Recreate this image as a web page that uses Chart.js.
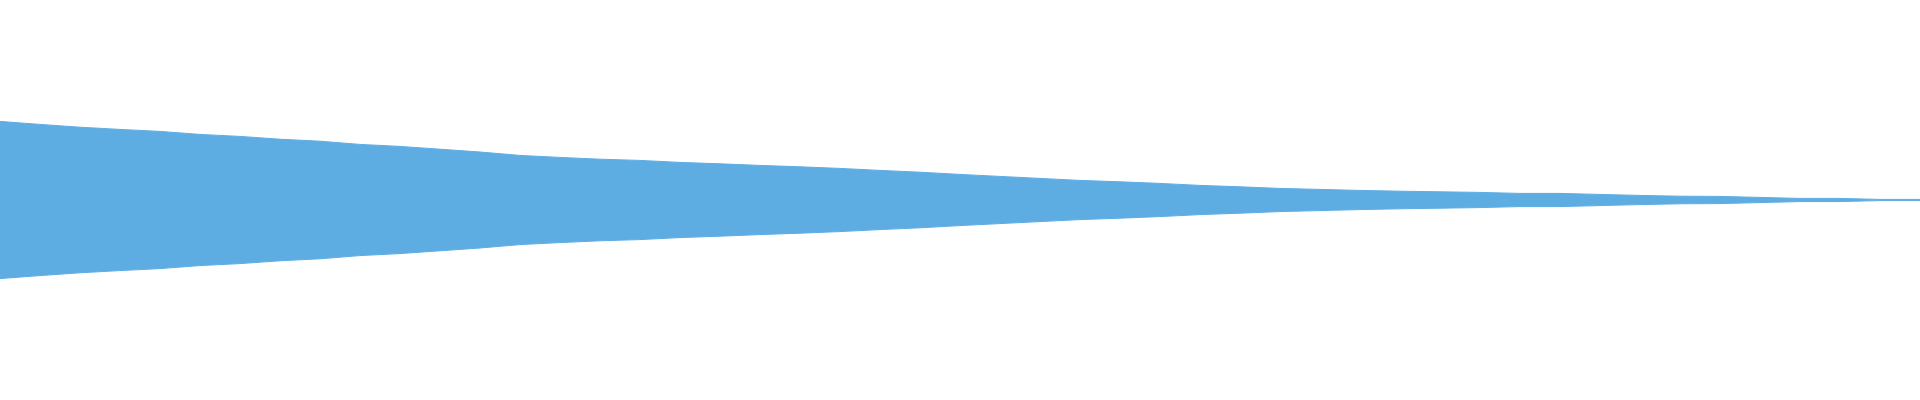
<!DOCTYPE html>
<html>
<head>
<meta charset="utf-8">
<title>Waveform</title>
<script src="https://cdn.jsdelivr.net/npm/chart.js@4.4.1/dist/chart.umd.min.js"></script>
<style>
    html, body { margin: 0; padding: 0; background: #ffffff; }
    #wrap { width: 1920px; height: 400px; }
</style>
</head>
<body>
<div id="wrap"><canvas id="waveChart"></canvas></div>
<script>
// Sample positions (one every 40 samples) and the peak amplitude read at each
const samplePositions = [
    0, 40, 80, 120, 160, 200, 240, 280, 320, 360,
    400, 440, 480, 520, 560, 600, 640, 680, 720, 760,
    800, 840, 880, 920, 960, 1000, 1040, 1080, 1120, 1160,
    1200, 1240, 1280, 1320, 1360, 1400, 1440, 1480, 1520, 1560,
    1600, 1640, 1680, 1720, 1760, 1800, 1840, 1880, 1920
];
const peakAmplitude = [
    0.393, 0.378, 0.364, 0.353, 0.343, 0.328, 0.318, 0.304, 0.294, 0.278,
    0.268, 0.254, 0.240, 0.223, 0.213, 0.204, 0.198, 0.188, 0.181, 0.173,
    0.166, 0.158, 0.148, 0.139, 0.128, 0.118, 0.108, 0.098, 0.091, 0.083,
    0.073, 0.066, 0.058, 0.053, 0.048, 0.044, 0.041, 0.038, 0.033, 0.033,
    0.028, 0.023, 0.019, 0.018, 0.013, 0.008, 0.008, 0.003, 0.003
];
const yMin = -1;
const yMax = 1;

const waveColor = '#5DACE2';

let waveChart;

document.addEventListener('DOMContentLoaded', () => {
    drawWaveform();
});

function drawWaveform() {
    const ctx = document.getElementById('waveChart').getContext('2d');

    if (waveChart) {
        waveChart.destroy();
    }

    waveChart = new Chart(ctx, {
        type: 'line',
        data: {
            labels: samplePositions,
            datasets: [
                {
                    label: 'Peak',
                    data: peakAmplitude,
                    borderColor: waveColor,
                    backgroundColor: waveColor,
                    borderWidth: 1,
                    pointRadius: 0,
                    tension: 0,
                    fill: false
                },
                {
                    label: 'Trough',
                    data: peakAmplitude.map(v => -v),
                    borderColor: waveColor,
                    backgroundColor: waveColor,
                    borderWidth: 1,
                    pointRadius: 0,
                    tension: 0,
                    fill: '-1'
                }
            ]
        },
        options: {
            responsive: true,
            maintainAspectRatio: false,
            animation: false,
            layout: { padding: 0 },
            plugins: {
                legend: { display: false },
                tooltip: { enabled: false }
            },
            scales: {
                x: { display: false, offset: false },
                y: { display: false, min: yMin, max: yMax }
            }
        }
    });
}
</script>
</body>
</html>
